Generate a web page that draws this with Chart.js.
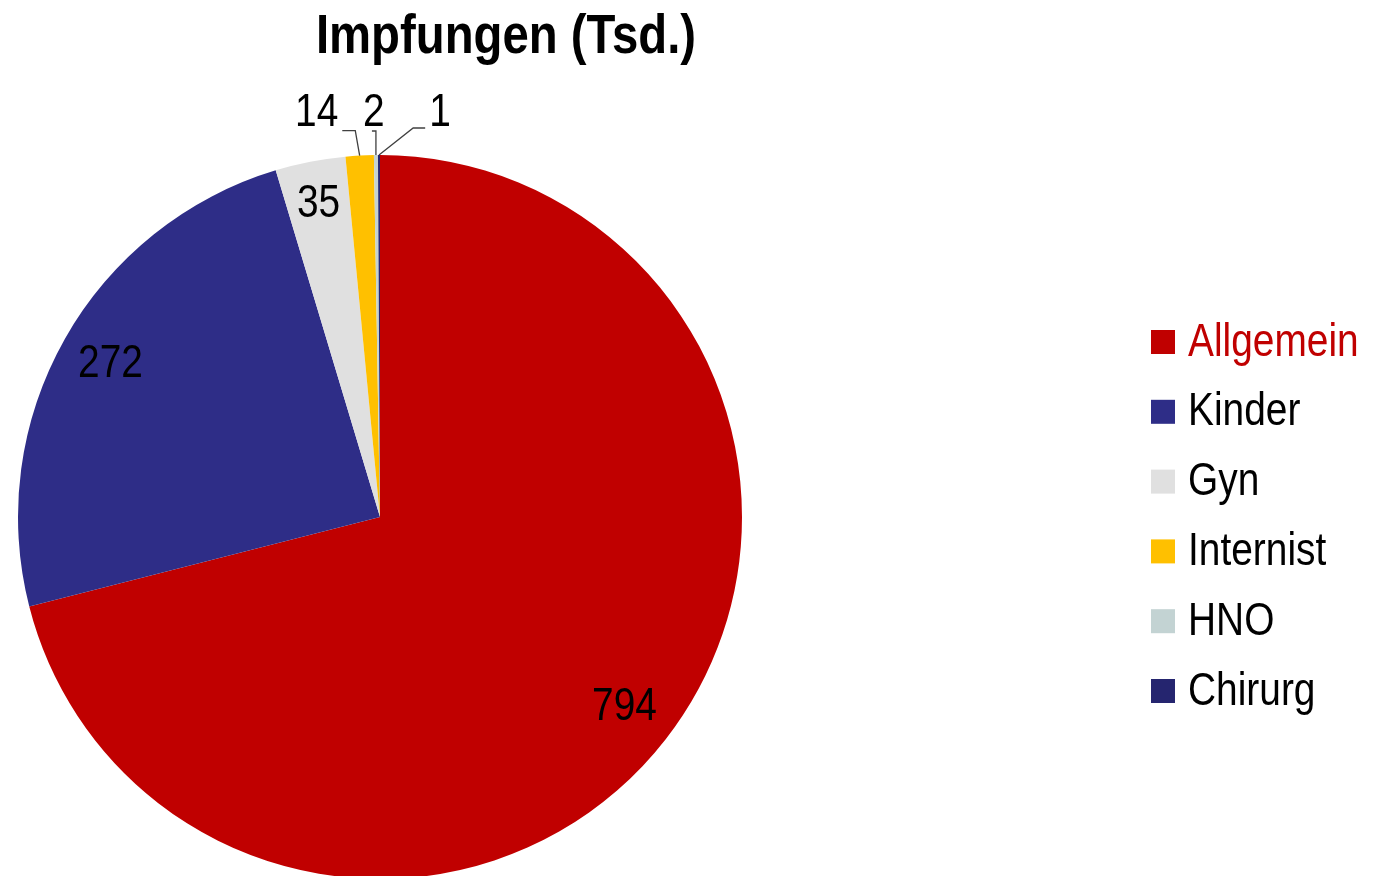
<!DOCTYPE html>
<html>
<head>
<meta charset="utf-8">
<script src="https://cdn.jsdelivr.net/npm/chart.js@4.4.1/dist/chart.umd.min.js"></script>
<style>
  html, body { margin: 0; padding: 0; background: #fff; overflow: hidden; }
  #wrap { width: 1377px; height: 900px; }
</style>
</head>
<body>
<div id="wrap"><canvas id="pie" width="1377" height="900"></canvas></div>
<script>
// --- Data ---
const categories = ['Allgemein', 'Kinder', 'Gyn', 'Internist', 'HNO', 'Chirurg'];
const values = [794, 272, 35, 14, 2, 1];
const sliceColors = ['#c00000', '#2e2d87', '#e0e0e0', '#ffc000', '#c3d3d3', '#25256f'];
const titleText = 'Impfungen (Tsd.)';

// no narrow font installed -> squeeze Liberation Sans horizontally
const FONT = '"Liberation Sans", Arial, sans-serif';
const SQUEEZE = 0.845;

function narrowText(ctx, txt, x, y, align) {
    ctx.save();
    ctx.translate(x, y);
    ctx.scale(SQUEEZE, 1);
    ctx.textAlign = align;
    ctx.fillText(txt, 0, 0);
    ctx.restore();
    return ctx.measureText(txt).width * SQUEEZE;
}

// label offsets for the thin slices (px from outer arc point), others sit inside
const outsideLabel = {
    3: { dx: -43, dy: -42, side: 'left' },
    4: { dx: -2, dy: -42, side: 'top' },
    5: { dx: 61, dy: -42, side: 'right' }
};

const labelsPlugin = {
    id: 'sliceLabels',
    afterDatasetsDraw(chart) {
        const ctx = chart.ctx;
        const meta = chart.getDatasetMeta(0);
        const total = values.reduce((a, b) => a + b, 0);
        ctx.save();
        ctx.font = '46px ' + FONT;
        ctx.fillStyle = '#000';
        ctx.textBaseline = 'middle';
        meta.data.forEach((arc, i) => {
            const mid = (arc.startAngle + arc.endAngle) / 2;
            const r = arc.outerRadius;
            const txt = String(values[i]);
            if (values[i] / total > 0.02) {
                const k = i === 2 ? 0.88 : 0.855;
                narrowText(ctx, txt, arc.x + Math.cos(mid) * r * k, arc.y + Math.sin(mid) * r * k, 'center');
                return;
            }
            const o = outsideLabel[i];
            const px = arc.x + Math.cos(mid) * r;
            const py = arc.y + Math.sin(mid) * r;
            const lx = px + o.dx, ly = py + o.dy;
            const w = narrowText(ctx, txt, lx, ly, 'center');
            ctx.strokeStyle = '#404040';
            ctx.lineWidth = 1.3;
            ctx.beginPath();
            if (o.side === 'left') {
                ctx.moveTo(lx + w / 2 + 4, ly + 17);
                ctx.lineTo(lx + w / 2 + 17, ly + 17);
            } else if (o.side === 'right') {
                ctx.moveTo(lx - w / 2 - 4, ly + 15);
                ctx.lineTo(lx - w / 2 - 16, ly + 15);
            } else {
                ctx.moveTo(lx - 2, ly + 18);
                ctx.lineTo(px, ly + 18);
            }
            ctx.lineTo(px, py);
            ctx.stroke();
        });
        ctx.restore();
    },
    afterDraw(chart) {
        const ctx = chart.ctx;
        ctx.save();
        // title
        ctx.font = 'bold 56px ' + FONT;
        ctx.fillStyle = '#000';
        ctx.textBaseline = 'alphabetic';
        narrowText(ctx, titleText, 506, 53, 'center');
        // legend
        ctx.font = '46px ' + FONT;
        ctx.textBaseline = 'middle';
        categories.forEach((c, i) => {
            const y = 342 + i * 69.8;
            ctx.fillStyle = sliceColors[i];
            ctx.fillRect(1151, y - 12, 24, 24);
            ctx.fillStyle = i === 0 ? '#c00000' : '#000';
            narrowText(ctx, c, 1188, y + 1, 'left');
        });
        ctx.restore();
    }
};

new Chart(document.getElementById('pie'), {
    type: 'pie',
    data: {
        labels: categories,
        datasets: [{
            data: values,
            backgroundColor: sliceColors,
            borderWidth: 0
        }]
    },
    options: {
        responsive: false,
        animation: false,
        devicePixelRatio: 1,
        layout: { padding: { left: 18, right: 635, top: 155, bottom: 21 } },
        plugins: {
            legend: { display: false },
            title: { display: false },
            tooltip: { enabled: false }
        }
    },
    plugins: [labelsPlugin]
});
</script>
</body>
</html>
